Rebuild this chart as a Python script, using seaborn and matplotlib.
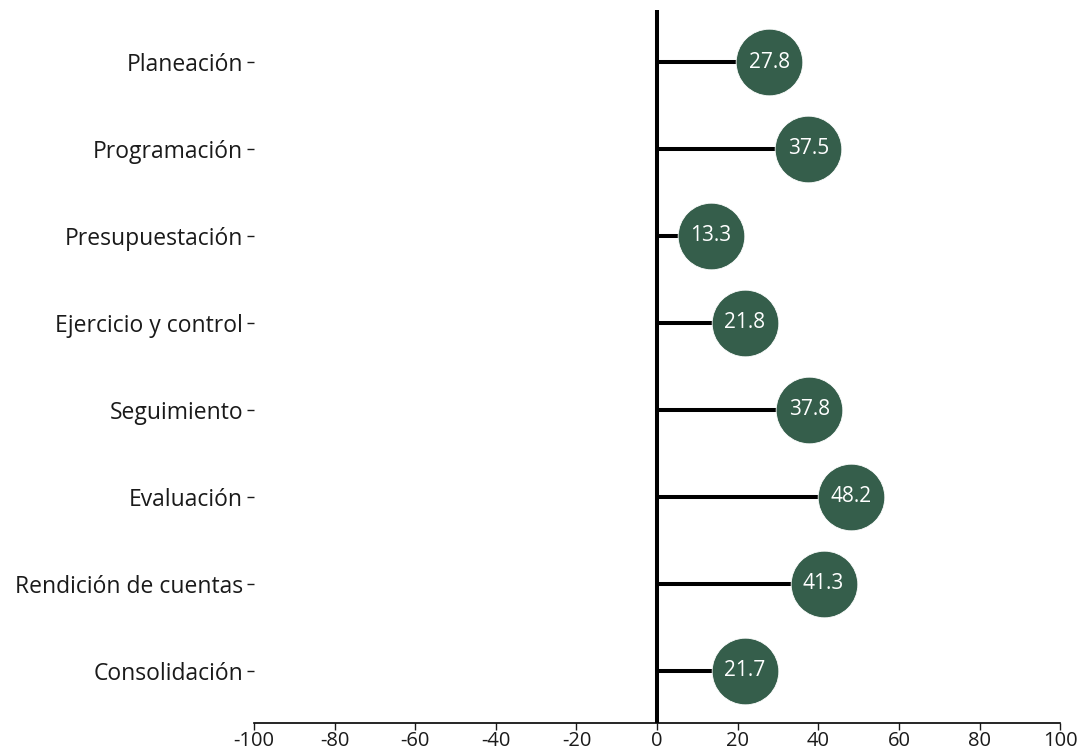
import matplotlib
matplotlib.use("Agg")
import matplotlib.pyplot as plt
import seaborn as sns
import pandas as pd

# --- Datos ---
categorias = ["Planeación", "Programación", "Presupuestación", "Ejercicio y control",
              "Seguimiento", "Evaluación", "Rendición de cuentas", "Consolidación"]
valores = [27.8, 37.5, 13.3, 21.8, 37.8, 48.2, 41.3, 21.7]
ticks_x = [-100, -80, -60, -40, -20, 0, 20, 40, 60, 80, 100]

df = pd.DataFrame({"categoria": categorias, "valor": valores})

sns.set_style("white")
plt.rcParams["font.family"] = ["Open Sans", "DejaVu Sans"]

verde = "#355E4B"

fig = plt.figure(figsize=(10.82, 7.56), dpi=100)
ax = fig.add_axes([0.2348, 0.0437, 0.745, 0.9433])

# tallos del lollipop
ax.hlines(y=df["categoria"], xmin=0, xmax=df["valor"], color="black", linewidth=2.9, zorder=1)
sns.scatterplot(data=df, x="valor", y="categoria", s=2304, color=verde,
                edgecolor="white", linewidth=0.6, ax=ax, zorder=3, legend=False)
ax.axvline(0, color="black", linewidth=2.9, zorder=2)

for i, row in df.iterrows():
    ax.text(row["valor"], i, f"{row['valor']:.1f}", ha="center", va="center",
            color="white", fontsize=15, zorder=4)

ax.set_xlim(-100, 100)
ax.set_ylim(7.6, -0.6)
ax.set_xticks(ticks_x)
ax.set_xticklabels([str(t) for t in ticks_x])
ax.set_xlabel("")
ax.set_ylabel("")

for lado in ["top", "right", "left"]:
    ax.spines[lado].set_visible(False)
ax.spines["bottom"].set_color("black")
ax.spines["bottom"].set_linewidth(1.2)

# etiquetas del eje x un poco más compactas para que no se corten en el borde
ax.tick_params(axis="x", bottom=True, length=5, width=1, pad=0.5, labelsize=14.5, colors="#1a1a1a")
ax.tick_params(axis="y", left=True, length=5, width=1, pad=3, labelsize=16.5, colors="#1a1a1a")
ax.grid(False)

fig.savefig("out.png", dpi=100)
